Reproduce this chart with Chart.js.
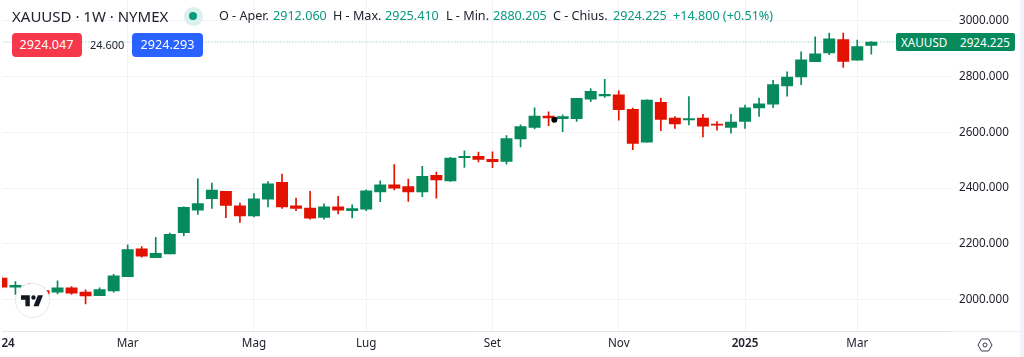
<!DOCTYPE html>
<html>
<head>
<meta charset="utf-8">
<title>XAUUSD</title>
<script src="https://cdn.jsdelivr.net/npm/chart.js@4"></script>
<style>
  html, body { margin: 0; padding: 0; background: #fff; overflow: hidden; }
  #wrap { position: relative; width: 1024px; height: 357px; overflow: hidden; font-family: "Noto Sans", sans-serif; }
  canvas { position: absolute; left: 0; top: 0; }
  .t { position: absolute; white-space: nowrap; line-height: 16px; font-size: 12.6px; color: #20232e; }
  .v { color: #089981; }
  .btn { position: absolute; top: 33px; height: 24px; line-height: 24px; border-radius: 4px; color: #fff; text-align: center; font-size: 12.6px; }
</style>
</head>
<body>
<div id="wrap">
  <canvas id="myChart" width="1024" height="357"></canvas>

  <!-- page edges: left column hides the clipped start of 2024, right is the lavender strip -->
  <div style="position:absolute;left:0;top:0;width:2px;height:357px;background:#fff"></div>
  <div style="position:absolute;left:951px;top:331px;width:69px;height:1px;background:#eef0f3"></div>
  <div style="position:absolute;left:1020px;top:0;width:4px;height:357px;background:#f0f3fa"></div>

  <div class="t" style="left:12px;top:8px;font-size:15px">XAUUSD · 1W · NYMEX</div>
  <div style="position:absolute;left:183.5px;top:6.5px;width:19px;height:19px;border-radius:50%;background:#daf1ec"></div>
  <div style="position:absolute;left:189px;top:12px;width:8px;height:8px;border-radius:50%;background:#089981"></div>

  <div class="t" style="left:219px;top:8px">O - Aper.</div>
  <div class="t v" style="left:273px;top:8px">2912.060</div>
  <div class="t" style="left:333px;top:8px">H - Max.</div>
  <div class="t v" style="left:385px;top:8px">2925.410</div>
  <div class="t" style="left:446px;top:8px">L - Min.</div>
  <div class="t v" style="left:493px;top:8px">2880.205</div>
  <div class="t" style="left:553px;top:8px">C - Chius.</div>
  <div class="t v" style="left:613px;top:8px">2924.225</div>
  <div class="t v" style="left:673px;top:8px">+14.800 (+0.51%)</div>

  <div class="btn" style="left:11.5px;width:70px;background:#f7374a">2924.047</div>
  <div class="t" style="left:90px;top:37px;font-size:11px">24.600</div>
  <div class="btn" style="left:132px;width:71px;background:#2962ff">2924.293</div>

  <div style="position:absolute;left:896px;top:33px;width:119px;height:18px;border-radius:2px;background:#068a5b"></div>
  <div class="t" style="left:901px;top:34px;font-size:11.7px;color:#fff">XAUUSD</div>
  <div class="t" style="left:960px;top:34px;font-size:11.7px;color:#fff">2924.225</div>

  <!-- tradingview badge -->
  <div style="position:absolute;left:14.5px;top:282.5px;width:33px;height:33px;border-radius:50%;background:#fff;border:1.5px solid #e6e7ee"></div>
  <svg style="position:absolute;left:21px;top:295px" width="22" height="11.5" viewBox="2 6 30 15"><path fill="#131722" d="M14 6H2v6h6v9h6V6zm12 15h-7l6-15h7l-6 15zm-7-9a3 3 0 100-6 3 3 0 000 6z"/></svg>

  <!-- settings icon -->
  <svg style="position:absolute;left:977px;top:337px" width="16" height="16" viewBox="0 0 16 16"><path fill="none" stroke="#3a3d47" stroke-width="1" d="M4.500 2h7L15 8l-3.500 6h-7L1 8z"/><circle cx="8" cy="8" r="2" fill="none" stroke="#3a3d47"/></svg>
</div>

<script>
// weekly candles, first one is the week of 1 Jan 2024
const opens = [2077, 2044, 2050, 2032, 2026, 2042, 2027, 2014, 2031, 2082, 2182, 2150, 2164, 2240, 2321, 2362, 2388, 2336, 2300, 2360, 2421, 2336, 2328, 2295, 2333, 2319, 2324, 2386, 2412, 2405, 2386, 2446, 2426, 2509, 2514, 2503, 2496, 2576, 2618, 2658, 2649, 2649, 2719, 2731, 2735, 2683, 2565, 2708, 2651, 2645, 2651, 2630, 2618, 2639, 2688, 2701, 2767, 2799, 2854, 2885, 2933, 2859, 2912.06];
const highs = [2085, 2064, 2058, 2042, 2067, 2046, 2035, 2042, 2090, 2196, 2190, 2223, 2238, 2333, 2433, 2418, 2388, 2346, 2380, 2423, 2450, 2364, 2388, 2343, 2370, 2340, 2394, 2426, 2484, 2432, 2478, 2457, 2510, 2534, 2529, 2530, 2588, 2627, 2688, 2674, 2663, 2722, 2757, 2790, 2749, 2687, 2717, 2723, 2657, 2728, 2665, 2639, 2665, 2698, 2723, 2787, 2817, 2889, 2943, 2956, 2956, 2931, 2925.41];
const lows = [2040, 2018, 2015, 2005, 2020, 2018, 1984, 2014, 2026, 2082, 2152, 2150, 2164, 2229, 2305, 2327, 2294, 2277, 2296, 2332, 2327, 2319, 2288, 2288, 2307, 2293, 2319, 2351, 2393, 2352, 2369, 2364, 2424, 2474, 2494, 2473, 2486, 2548, 2612, 2624, 2602, 2639, 2710, 2725, 2644, 2538, 2565, 2606, 2614, 2627, 2584, 2608, 2597, 2614, 2657, 2689, 2730, 2771, 2854, 2879, 2833, 2859, 2880.205];
const closes = [2044, 2051, 2029, 2018, 2042, 2023, 2013, 2036, 2085, 2179, 2156, 2166, 2234, 2331, 2344, 2393, 2338, 2300, 2361, 2415, 2332, 2327, 2292, 2333, 2321, 2326, 2390, 2412, 2400, 2386, 2442, 2429, 2508, 2514, 2503, 2495, 2578, 2621, 2658, 2652, 2657, 2722, 2747, 2736, 2681, 2560, 2716, 2646, 2630, 2649, 2622, 2626, 2637, 2688, 2702, 2771, 2798, 2860, 2882, 2936, 2855, 2908, 2924.225];

const priceTicks = [2000, 2200, 2400, 2600, 2800, 3000];
const timeTickWeeks = [0, 9, 18, 26, 35, 44, 53, 61];
const timeTickLabels = ['2024', 'Mar', 'Mag', 'Lug', 'Set', 'Nov', '2025', 'Mar'];

const lastPrice = 2924.225;
const eventWeek = 39.41;
const eventPrice = 2645;

const UP = '#068a5b';
const DOWN = '#e31200';
const GRID = '#f3f3f6';
const FONT = '"Noto Sans", sans-serif';

const xMin = 0;
const xMax = 67.68;

const candleColor = c => {
    const i = c.dataIndex;
    return closes[i] >= opens[i] ? UP : DOWN;
};

// the layout reserves room for the outer tick labels, we want them to hang over
const noMargins = s => {
    s.paddingLeft = s.paddingRight = s.paddingTop = s.paddingBottom = 0;
    s._margins = { left: 0, right: 0, top: 0, bottom: 0 };
};

new Chart(document.getElementById('myChart'), {
    type: 'bar',
    data: {
        datasets: [
            {
                label: 'Last',
                type: 'line',
                data: [{ x: xMin, y: lastPrice }, { x: xMax, y: lastPrice }],
                borderColor: 'rgba(8,153,129,0.55)',
                borderWidth: 1,
                borderDash: [1, 2],
                pointRadius: 0,
                order: 4
            },
            {
                label: 'Wick',
                data: opens.map((o, i) => ({ x: i, y: [lows[i], highs[i]] })),
                backgroundColor: candleColor,
                barThickness: 1,
                grouped: false,
                order: 3
            },
            {
                label: 'Body',
                data: opens.map((o, i) => ({ x: i, y: [o, closes[i]] })),
                backgroundColor: candleColor,
                barThickness: 11.3,
                grouped: false,
                order: 2
            },
            {
                label: 'Event',
                type: 'scatter',
                data: [{ x: eventWeek, y: eventPrice }],
                backgroundColor: '#000',
                borderWidth: 0,
                pointRadius: 3,
                order: 1
            }
        ]
    },
    options: {
        responsive: false,
        animation: false,
        events: [],
        layout: { autoPadding: false, padding: { left: 1.4, right: 0, top: 0, bottom: 0 } },
        plugins: { legend: { display: false }, tooltip: { enabled: false } },
        scales: {
            x: {
                type: 'linear',
                min: xMin,
                max: xMax,
                offset: false,
                afterBuildTicks: s => { s.ticks = timeTickWeeks.map(v => ({ value: v })); },
                afterFit: s => { s.height = 26; noMargins(s); },
                grid: {
                    offset: false,
                    color: c => (c.index === 0 ? 'transparent' : GRID),
                    drawTicks: false
                },
                border: { display: true, color: '#e4e5ea', width: 1 },
                ticks: {
                    autoSkip: false,
                    maxRotation: 0,
                    padding: 6,
                    color: '#20232e',
                    font: c => ({
                        family: FONT,
                        size: 11.7,
                        weight: /^\d/.test(timeTickLabels[c.index]) ? '600' : '400'
                    }),
                    callback: (v, i) => timeTickLabels[i]
                }
            },
            y: {
                type: 'linear',
                position: 'right',
                min: 1887,
                max: 3075,
                afterBuildTicks: s => { s.ticks = priceTicks.map(v => ({ value: v })); },
                afterFit: s => { s.width = 73; noMargins(s); },
                grid: { color: GRID, drawTicks: false },
                border: { display: false },
                ticks: {
                    padding: 8,
                    color: '#20232e',
                    font: { family: FONT, size: 11.7 },
                    callback: v => v.toFixed(3)
                }
            }
        }
    }
});
</script>
</body>
</html>
